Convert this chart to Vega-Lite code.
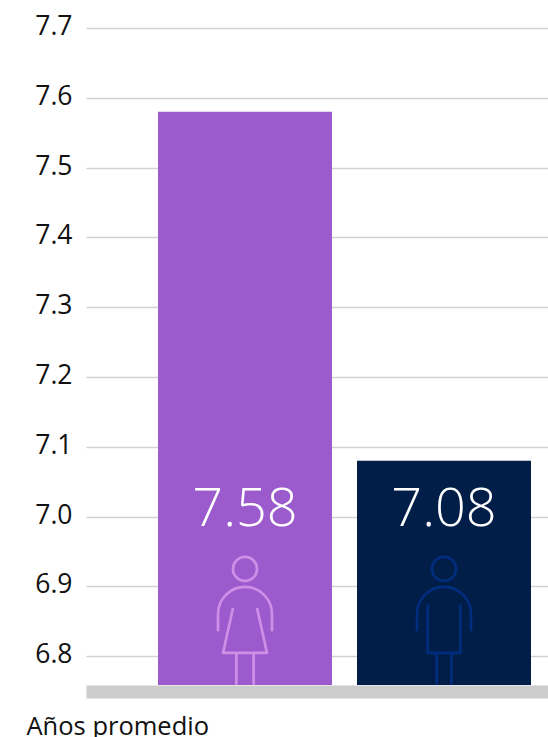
{"$schema":"https://vega.github.io/schema/vega-lite/v6.json","width":462,"height":657,"autosize":{"type":"none"},"padding":{"left":86,"top":28,"right":0,"bottom":52},"background":"white","view":{"stroke":null},"data":{"values":[{"genero":"Mujeres","anios":7.58},{"genero":"Hombres","anios":7.08}]},"encoding":{"x":{"field":"genero","type":"nominal","sort":["Mujeres","Hombres"],"scale":{"paddingInner":0.1256,"paddingOuter":0.2236,"align":0.809},"axis":{"title":"Años promedio","titleFont":"Open Sans","titleFontSize":25.5,"titleFontWeight":400,"titleColor":"#111111","titleAlign":"left","titleBaseline":"alphabetic","titleAnchor":"start","titleX":-60,"titleY":43,"labels":false,"ticks":false,"domainColor":"#cccccc","domainWidth":13,"offset":6.5}}},"layer":[{"mark":{"type":"bar"},"encoding":{"y":{"field":"anios","type":"quantitative","scale":{"domain":[6.7587,7.7],"nice":false,"zero":false,"clamp":true},"axis":{"title":null,"values":[6.8,6.9,7.0,7.1,7.2,7.3,7.4,7.5,7.6,7.7],"format":".1f","labelFont":"Open Sans","labelFontSize":26.5,"labelColor":"#111111","labelPadding":14,"labelOffset":-1.5,"ticks":false,"domain":false,"grid":true,"gridColor":"#d2d2d2","gridWidth":1.5}},"color":{"field":"genero","type":"nominal","scale":{"domain":["Mujeres","Hombres"],"range":["#9c5bcd","#001e47"]},"legend":null}}},{"mark":{"type":"text","font":"Open Sans","fontWeight":300,"fontSize":54,"color":"white","baseline":"alphabetic","align":"center"},"encoding":{"y":{"datum":6.987},"text":{"field":"anios","type":"quantitative","format":".2f"}}},{"mark":{"type":"point","filled":false,"strokeWidth":2.7,"opacity":1,"size":10000,"strokeCap":"butt","strokeJoin":"round"},"encoding":{"y":{"datum":6.851},"shape":{"field":"genero","type":"nominal","scale":{"domain":["Mujeres","Hombres"],"range":["M.24 -1.033A.24 .24 0 1 1 -.24 -1.033A.24 .24 0 1 1 .24 -1.033ZM-.54 .213L-.54 -.133A.54 .54 0 0 1 .54 -.133L.54 .213M-.24 -.253L-.44 .647L.44 .647L.24 -.253M-.173 .647L-.173 1.285M.173 .647L.173 1.285","M.24 -1.033A.24 .24 0 1 1 -.24 -1.033A.24 .24 0 1 1 .24 -1.033ZM-.54 .213L-.54 -.133A.54 .54 0 0 1 .54 -.133L.54 .213M-.327 -.32L-.327 .647L.327 .647L.327 -.32M-.147 .647L-.147 1.285M.147 .647L.147 1.285"]},"legend":null},"stroke":{"field":"genero","type":"nominal","scale":{"domain":["Mujeres","Hombres"],"range":["#cf8fe6","#002d7d"]},"legend":null}}}]}
